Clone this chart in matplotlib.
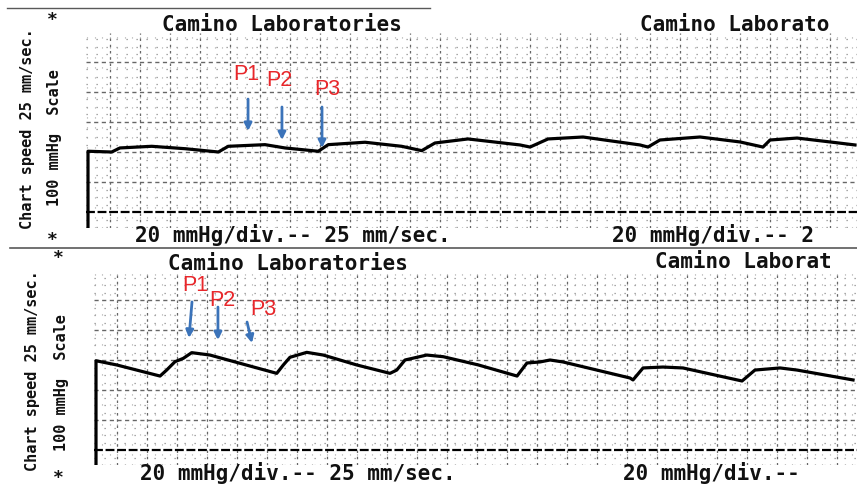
import numpy as np
import matplotlib
matplotlib.use("Agg")
import matplotlib.pyplot as plt
from matplotlib.lines import Line2D

W, H = 857, 488
PX_PER_S = 150.0      # chart: 25 mm/sec, one big square = 0.2 s
PX_PER_MMHG = 1.5     # 20 mmHg/div, one big square = 30 px

# --- top strip (low ICP, P1 < P2 > P3 flattened) ---
top_t = [0.0, 0.0, 0.158, 0.213, 0.425, 0.647, 0.869, 0.935, 1.18, 1.313, 1.535,
         1.602, 1.847, 2.091, 2.225, 2.313, 2.533, 2.88, 2.947, 3.067, 3.30,
         3.68, 3.733, 3.813, 4.08, 4.347, 4.50, 4.547, 4.727, 4.947, 5.113]
top_p = [-10.7, 40.5, 40.0, 42.7, 43.8, 42.2, 40.0, 43.8, 44.9, 42.7, 40.5,
         44.9, 46.5, 43.8, 40.9, 46.0, 48.7, 44.7, 43.3, 48.7, 50.0,
         44.7, 43.3, 48.0, 50.0, 46.7, 43.3, 48.0, 49.3, 46.7, 44.7]

# --- bottom strip (higher ICP, rounded pulses) ---
bot_t = [0.0, 0.0, 0.138, 0.427, 0.471, 0.527, 0.582, 0.638, 0.76, 0.96, 1.205,
         1.249, 1.293, 1.405, 1.515, 1.738, 1.96, 2.005, 2.06, 2.205, 2.315,
         2.549, 2.807, 2.873, 2.96, 3.027, 3.113, 3.56, 3.58, 3.647, 3.78,
         3.913, 4.307, 4.393, 4.56, 4.673, 5.047]
bot_p = [-10.0, 59.5, 56.7, 49.3, 53.3, 58.9, 61.1, 64.9, 63.3, 57.8, 51.1,
         56.7, 61.8, 65.1, 63.3, 56.7, 51.1, 53.3, 60.0, 63.3, 62.2,
         56.7, 49.3, 58.0, 58.7, 60.0, 58.7, 48.0, 46.7, 54.7, 55.3,
         54.7, 46.0, 53.3, 54.7, 53.3, 46.7]

peak_labels = ["P1", "P2", "P3"]
top_label_xy = [(1.053, 91.5), (1.273, 87.5), (1.593, 81.5)]
top_arrow_from = [(1.067, 75.3), (1.293, 70.0), (1.56, 70.0)]
top_arrow_to = [(1.067, 54.0), (1.293, 48.0), (1.56, 42.7)]
bot_label_xy = [(0.66, 110.0), (0.84, 99.5), (1.113, 94.0)]
bot_arrow_from = [(0.64, 98.7), (0.813, 95.3), (1.007, 85.3)]
bot_arrow_to = [(0.62, 74.7), (0.813, 73.3), (1.04, 71.3)]

header = "Camino Laboratories"
footer = "20 mmHg/div.-- 25 mm/sec."
# the strip repeats and is cut by the right edge of the scan
header_cut_top = "Camino Laborato"
header_cut_bot = "Camino Laborat"
footer_cut_top = "20 mmHg/div.-- 2"
footer_cut_bot = "20 mmHg/div.--"
side1 = "Chart speed 25 mm/sec."
side2 = "100 mmHg  Scale"

MONO = "DejaVu Sans Mono"

fig = plt.figure(figsize=(W / 100, H / 100), dpi=100)
fig.patch.set_facecolor("white")


def fx(x):
    return x / W


def fy(y):
    return 1 - y / H


def make_panel(left, top, bottom, t0_px, base_px, grid_off):
    ax = fig.add_axes([fx(left), fy(bottom), (W - left) / W, (bottom - top) / H])
    ax.set_xlim((left - t0_px) / PX_PER_S, (W - t0_px) / PX_PER_S)
    ax.set_ylim((base_px - bottom) / PX_PER_MMHG, (base_px - top) / PX_PER_MMHG)
    for s in ax.spines.values():
        s.set_visible(False)
    ax.set_xticks([])
    ax.set_yticks([])
    ax.patch.set_alpha(0)
    # paper grid
    for p in np.arange(-10, 120, 5):
        if p % 20 == 0:
            continue
        ax.axhline(p, color="0.55", lw=0.9, ls=(0, (1, 7)), zorder=1)
    for t in np.arange(grid_off - 0.2, 5.4, 0.05):
        ax.axvline(t, color="0.65", lw=0.8, ls=(0, (1, 8)), zorder=1)
    for t in np.arange(grid_off - 0.2, 5.4, 0.2):
        ax.axvline(t, color="0.4", lw=0.9, ls=(0, (2, 3)), zorder=1)
    for p in range(20, 120, 20):
        ax.axhline(p, color="0.4", lw=1.0, ls=(0, (3, 2.5)), zorder=1)
    ax.axhline(0, color="black", lw=1.6, ls=(0, (4, 1.2)), zorder=1)
    return ax


ax_top = make_panel(86, 33, 228, 88, 212, 0.145)
ax_bot = make_panel(94, 272, 465, 96, 450, 0.14)

ax_top.plot(top_t, top_p, color="black", lw=2.3, solid_joinstyle="round", zorder=3)
ax_bot.plot(bot_t, bot_p, color="black", lw=2.3, solid_joinstyle="round", zorder=3)

for ax, lab_xy, a_from, a_to in [(ax_top, top_label_xy, top_arrow_from, top_arrow_to),
                                 (ax_bot, bot_label_xy, bot_arrow_from, bot_arrow_to)]:
    for lab, xy, a, b in zip(peak_labels, lab_xy, a_from, a_to):
        ax.text(xy[0], xy[1], lab, color="#e8262a", fontsize=15.5, ha="center",
                va="center", family="Liberation Sans", zorder=5)
        ax.annotate("", xy=b, xytext=a,
                    arrowprops=dict(arrowstyle="-|>", color="#3b73b9", lw=2,
                                    mutation_scale=11, shrinkA=0, shrinkB=0),
                    zorder=5)

# printed text on the chart paper
txt = dict(family=MONO, weight="bold", fontsize=15, color="#111111", va="center")
fig.text(fx(162), fy(25), header, **txt)
fig.text(fx(640), fy(25), header_cut_top, **txt)
fig.text(fx(135), fy(235), footer, **txt)
fig.text(fx(612), fy(235), footer_cut_top, **txt)
fig.text(fx(168), fy(264), header, **txt)
fig.text(fx(655), fy(262), header_cut_bot, **txt)
fig.text(fx(140), fy(473), footer, **txt)
fig.text(fx(623), fy(473), footer_cut_bot, **txt)

side = dict(family=MONO, weight="bold", fontsize=11, color="#111111",
            rotation=90, ha="center", va="center")
fig.text(fx(28), fy(129), side1, **side)
fig.text(fx(55), fy(138), side2, **side)
fig.text(fx(33), fy(371), side1, **side)
fig.text(fx(62), fy(383), side2, **side)

star = dict(family=MONO, weight="bold", fontsize=13, color="#111111",
            ha="center", va="center")
for x, y in [(52, 20), (52, 240), (58, 258), (58, 478)]:
    fig.text(fx(x), fy(y), "*", **star)

# torn paper edges between the strips
fig.add_artist(Line2D([fx(7), fx(430)], [fy(8), fy(8)], color="0.35", lw=1.0))
fig.add_artist(Line2D([fx(10), fx(857)], [fy(248), fy(248)], color="0.35", lw=1.2))

fig.savefig("out.png", dpi=100)
